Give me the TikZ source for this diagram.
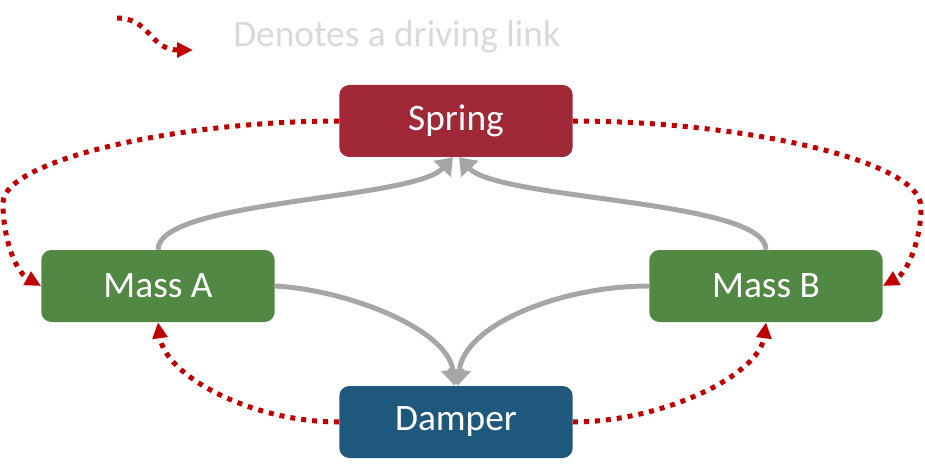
\documentclass[tikz,border=0pt]{standalone}
\usepackage{fontspec}
\setmainfont{Carlito}
\usetikzlibrary{arrows.meta, calc}
\definecolor{springred}{HTML}{A02837}
\definecolor{massgreen}{HTML}{508844}
\definecolor{damperblue}{HTML}{1E587D}
\definecolor{linkgray}{HTML}{A6A6A6}
\definecolor{drivered}{HTML}{C00000}
\definecolor{keygray}{HTML}{D9D9D9}
\tikzset{
    block/.style={rectangle, rounded corners=7.5pt, minimum width=175pt, minimum height=54pt, inner sep=0pt, text=white, font=\fontsize{28}{32}\selectfont},
    link/.style={draw=linkgray, line width=3.75pt, -{Triangle[length=12pt, width=17pt]}},
    drive/.style={draw=drivered, line width=3.75pt, dash pattern=on 3.75pt off 4.5pt, -{Triangle[length=12pt, width=11pt]}}
}

\begin{document}
\begin{tikzpicture}[x=0.75pt, y=0.75pt]
        \useasboundingbox (0,0) rectangle (925,465);
        % Blocks
        \node (spring) [block, fill=springred] at (456, 344) {Spring};
        \node (massA) [block, fill=massgreen] at (158, 179) {Mass A};
        \node (massB) [block, fill=massgreen] at (766, 179) {Mass B};
        \node (damper) [block, fill=damperblue] at (456, 43) {Damper};

        % Legend
        \coordinate (keyA) at (117, 447);
        \coordinate (keyB) at (193, 415);
        \draw[drive] (keyA) .. controls +(33,0) and +(-43,0) .. (keyB);
        \node (key) [anchor=west, inner sep=0pt, text=keygray, font=\fontsize{28}{32}\selectfont] at (233, 428) {Denotes a driving link};

        % Mass to spring / damper links
        \draw[link] (massA.north) .. controls +(0,50) and +(-40,-43) .. ($(spring.south)+(-3,0)$);
        \draw[link] (massB.north) .. controls +(0,50) and +(40,-43) .. ($(spring.south)+(3,0)$);
        \draw[link] (massA.east) .. controls +(74,-4) and +(-6,56) .. ($(damper.north)+(-1.5,0)$);
        \draw[link] (massB.west) .. controls +(-89,0) and +(7,61) .. ($(damper.north)+(1.5,0)$);

        % Driving links
        \coordinate (turnL) at (3, 262);
        \coordinate (turnR) at (921, 258);
        \draw[drive] (spring.west) .. controls +(-160,0) and +(0,43) .. (turnL) .. controls +(0,-37) and +(-25,14) .. (massA.west);
        \draw[drive] (spring.east) .. controls +(167,0) and +(0,47) .. (turnR) .. controls +(0,-33) and +(25,14) .. (massB.east);
        \draw[drive] (damper.west) .. controls +(-89,0) and +(7,-53) .. (massA.south);
        \draw[drive] (damper.east) .. controls +(89,0) and +(-7,-53) .. (massB.south);
    \end{tikzpicture}
\end{document}
